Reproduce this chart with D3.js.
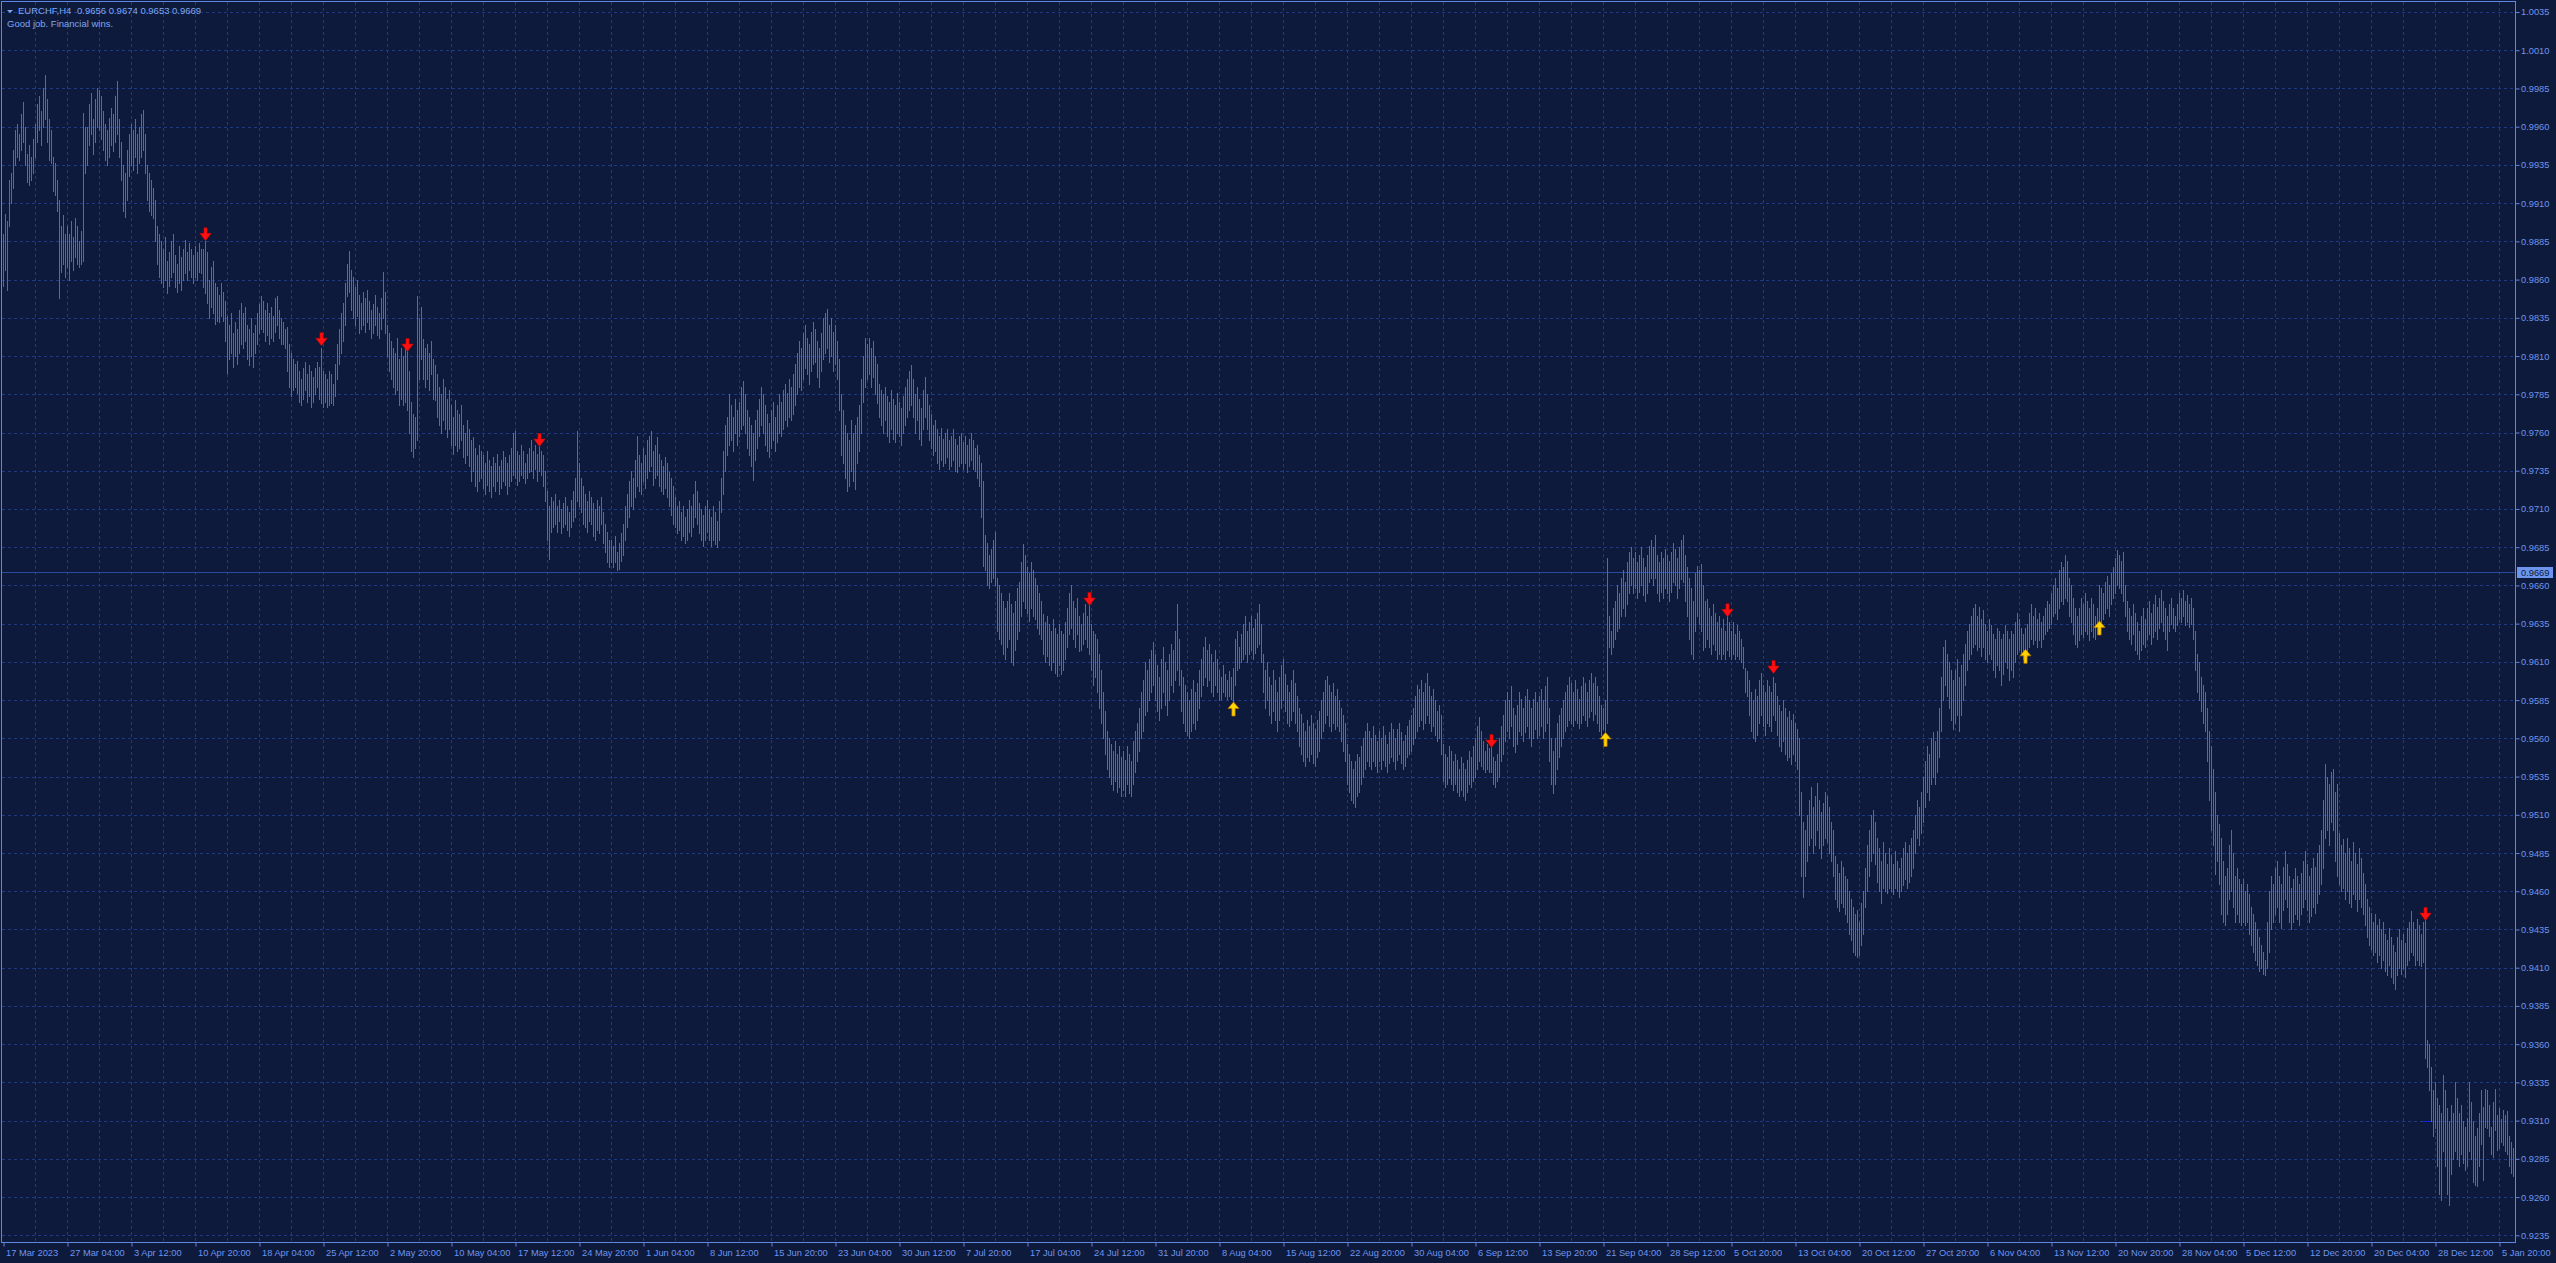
<!DOCTYPE html>
<html><head><meta charset="utf-8">
<script src="https://cdn.jsdelivr.net/npm/d3@7"></script>
<style>html,body{margin:0;padding:0;background:#0e1a3b;overflow:hidden}svg{display:block}</style>
</head><body><svg id="c" width="2556" height="1263"></svg>
<script>
// ---------- data ----------
const symbol = "EURCHF,H4";
const ohlc = ["0.9656", "0.9674", "0.9653", "0.9669"];
const caption = "Good job. Financial wins.";
const currentPrice = 0.9669;
const POINT = 0.0001; // highs / lows below are in points (price × 10000)

const priceTicks = ["1.0035","1.0010","0.9985","0.9960","0.9935","0.9910","0.9885","0.9860","0.9835","0.9810","0.9785","0.9760","0.9735","0.9710","0.9685","0.9660","0.9635","0.9610","0.9585","0.9560","0.9535","0.9510","0.9485","0.9460","0.9435","0.9410","0.9385","0.9360","0.9335","0.9310","0.9285","0.9260","0.9235"];

const dateLabels = ["17 Mar 2023","27 Mar 04:00","3 Apr 12:00","10 Apr 20:00","18 Apr 04:00","25 Apr 12:00","2 May 20:00","10 May 04:00","17 May 12:00","24 May 20:00","1 Jun 04:00","8 Jun 12:00","15 Jun 20:00","23 Jun 04:00","30 Jun 12:00","7 Jul 20:00","17 Jul 04:00","24 Jul 12:00","31 Jul 20:00","8 Aug 04:00","15 Aug 12:00","22 Aug 20:00","30 Aug 04:00","6 Sep 12:00","13 Sep 20:00","21 Sep 04:00","28 Sep 12:00","5 Oct 20:00","13 Oct 04:00","20 Oct 12:00","27 Oct 20:00","6 Nov 04:00","13 Nov 12:00","20 Nov 20:00","28 Nov 04:00","5 Dec 12:00","12 Dec 20:00","20 Dec 04:00","28 Dec 12:00","5 Jan 20:00"];
const barsPerLabel = 32;

const highs = [
9890,9903,9898,9925,9930,9945,9958,9962,9955,9968,9976,9960,9942,9948,9940,9952,
9962,9975,9980,9970,9985,9994,9978,9965,9958,9940,9936,9925,9912,9895,9902,9890,
9895,9890,9898,9888,9900,9895,9885,9892,9969,9960,9960,9975,9982,9965,9978,9985,
9984,9980,9970,9962,9958,9966,9972,9968,9980,9990,9965,9950,9935,9930,9945,9955,
9962,9958,9965,9955,9960,9968,9971,9955,9935,9930,9925,9920,9912,9895,9890,9885,
9880,9888,9872,9878,9885,9890,9876,9870,9882,9875,9880,9886,9878,9884,9880,9876,
9882,9878,9884,9880,9880,9885,9878,9860,9868,9872,9858,9855,9850,9858,9852,9846,
9836,9830,9838,9825,9832,9828,9840,9845,9838,9842,9830,9828,9835,9825,9830,9838,
9844,9849,9846,9840,9845,9838,9842,9836,9848,9849,9840,9835,9832,9828,9829,9818,
9812,9808,9805,9807,9800,9795,9802,9806,9798,9804,9800,9796,9802,9806,9803,9815,
9800,9798,9795,9800,9798,9792,9805,9818,9828,9838,9845,9858,9870,9879,9866,9862,
9855,9860,9850,9845,9852,9848,9853,9846,9840,9844,9850,9842,9838,9848,9865,9852,
9830,9825,9820,9815,9812,9822,9808,9815,9810,9816,9813,9800,9780,9772,9770,9849,
9835,9842,9821,9815,9818,9812,9820,9808,9804,9798,9790,9785,9795,9790,9782,9788,
9778,9770,9781,9775,9772,9778,9765,9760,9768,9762,9755,9757,9750,9745,9752,9748,
9745,9740,9748,9742,9738,9744,9740,9746,9738,9742,9748,9744,9740,9745,9750,9760,
9761,9748,9745,9752,9748,9740,9746,9750,9755,9748,9752,9746,9753,9748,9745,9735,
9722,9712,9718,9715,9720,9712,9716,9710,9714,9718,9712,9708,9716,9722,9730,9761,
9740,9730,9725,9720,9715,9722,9718,9714,9710,9716,9712,9718,9708,9700,9695,9690,
9690,9686,9692,9682,9688,9694,9700,9712,9720,9728,9735,9730,9742,9758,9745,9740,
9750,9745,9755,9758,9761,9748,9752,9757,9746,9742,9738,9744,9740,9734,9730,9725,
9718,9712,9715,9708,9712,9705,9710,9716,9712,9720,9728,9722,9714,9710,9706,9712,
9716,9710,9705,9712,9708,9702,9715,9730,9748,9765,9770,9785,9778,9770,9782,9775,
9780,9790,9794,9785,9775,9770,9765,9760,9768,9775,9782,9790,9785,9778,9772,9766,
9775,9780,9770,9778,9785,9780,9788,9792,9786,9795,9790,9798,9805,9812,9820,9815,
9825,9830,9822,9818,9826,9832,9828,9820,9815,9825,9835,9838,9841,9830,9835,9826,
9830,9820,9808,9785,9775,9765,9760,9755,9768,9760,9765,9770,9778,9795,9810,9822,
9818,9822,9815,9820,9810,9805,9792,9788,9785,9790,9784,9780,9788,9782,9778,9786,
9780,9776,9784,9790,9795,9800,9804,9795,9785,9790,9782,9776,9788,9796,9785,9778,
9772,9765,9768,9762,9758,9763,9756,9760,9762,9755,9758,9762,9756,9752,9758,9760,
9754,9758,9752,9756,9760,9755,9750,9752,9745,9740,9728,9693,9688,9680,9684,9690,
9695,9665,9660,9655,9650,9645,9650,9655,9648,9642,9650,9658,9662,9675,9687,9680,
9672,9668,9675,9670,9665,9660,9655,9650,9641,9636,9640,9635,9630,9638,9632,9628,
9635,9630,9628,9636,9645,9655,9660,9650,9645,9652,9640,9635,9642,9648,9640,9648,
9635,9630,9628,9625,9615,9605,9590,9578,9565,9560,9556,9552,9558,9550,9555,9548,
9552,9546,9555,9550,9545,9558,9565,9570,9580,9590,9598,9610,9605,9612,9618,9623,
9615,9608,9600,9612,9620,9610,9605,9615,9622,9618,9630,9648,9625,9605,9600,9595,
9590,9585,9592,9598,9590,9596,9605,9612,9620,9626,9618,9622,9615,9610,9618,9612,
9605,9600,9608,9602,9598,9604,9600,9606,9625,9630,9620,9628,9635,9640,9630,9636,
9640,9632,9638,9642,9648,9635,9615,9605,9610,9600,9595,9605,9598,9590,9600,9608,
9612,9602,9595,9590,9598,9605,9596,9588,9580,9576,9570,9565,9572,9568,9575,9570,
9566,9572,9578,9585,9590,9598,9601,9595,9590,9596,9588,9592,9585,9580,9575,9570,
9556,9550,9545,9540,9545,9550,9548,9555,9560,9565,9570,9565,9560,9568,9562,9558,
9565,9560,9568,9562,9556,9564,9570,9566,9560,9566,9570,9564,9558,9562,9568,9572,
9575,9580,9588,9595,9592,9598,9590,9596,9603,9594,9588,9592,9585,9578,9582,9575,
9556,9550,9548,9555,9552,9545,9550,9546,9540,9548,9544,9540,9546,9552,9548,9555,
9560,9568,9574,9565,9558,9552,9556,9554,9556,9548,9545,9550,9560,9568,9575,9585,
9590,9585,9594,9580,9575,9582,9590,9586,9580,9588,9592,9585,9580,9586,9590,9584,
9588,9592,9585,9594,9600,9580,9560,9552,9560,9570,9575,9580,9585,9590,9595,9600,
9596,9590,9598,9592,9586,9594,9600,9596,9590,9598,9603,9596,9600,9594,9588,9582,
9580,9585,9678,9640,9630,9645,9650,9660,9655,9665,9670,9662,9675,9682,9685,9678,
9682,9675,9680,9685,9678,9672,9680,9686,9690,9685,9693,9680,9675,9682,9678,9684,
9680,9676,9682,9688,9684,9678,9685,9690,9693,9680,9672,9665,9658,9650,9668,9673,
9670,9674,9660,9650,9651,9645,9640,9648,9642,9636,9640,9632,9638,9630,9641,9636,
9630,9636,9628,9634,9630,9625,9620,9606,9604,9598,9590,9585,9592,9588,9598,9603,
9595,9590,9598,9594,9590,9600,9596,9588,9582,9578,9585,9580,9574,9578,9572,9576,
9570,9566,9560,9525,9505,9500,9510,9520,9528,9515,9522,9531,9520,9512,9518,9525,
9522,9515,9505,9500,9483,9478,9472,9480,9476,9470,9468,9460,9455,9450,9445,9448,
9440,9452,9460,9475,9490,9500,9510,9513,9505,9495,9488,9480,9492,9485,9478,9488,
9484,9478,9486,9480,9475,9482,9488,9492,9485,9490,9495,9500,9510,9520,9515,9525,
9535,9545,9555,9550,9560,9564,9558,9565,9580,9600,9620,9624,9615,9610,9605,9598,
9605,9612,9600,9608,9615,9622,9630,9635,9640,9645,9648,9640,9646,9638,9644,9635,
9630,9638,9634,9628,9625,9632,9630,9625,9628,9634,9630,9625,9630,9628,9636,9642,
9638,9632,9628,9632,9635,9642,9648,9640,9645,9638,9642,9636,9640,9645,9650,9648,
9655,9660,9665,9658,9670,9675,9672,9680,9676,9665,9660,9652,9645,9640,9645,9652,
9648,9655,9650,9645,9652,9648,9640,9645,9660,9658,9655,9662,9666,9660,9668,9672,
9678,9683,9680,9676,9682,9660,9650,9645,9640,9648,9642,9636,9630,9640,9645,9638,
9645,9650,9642,9648,9654,9646,9652,9657,9650,9645,9640,9648,9652,9645,9640,9648,
9655,9652,9657,9650,9654,9648,9652,9645,9630,9615,9610,9600,9595,9590,9580,9565,
9555,9540,9525,9510,9504,9495,9480,9470,9475,9490,9500,9485,9470,9475,9468,9465,
9468,9460,9465,9458,9450,9445,9440,9435,9430,9425,9420,9415,9440,9460,9470,9465,
9475,9480,9470,9465,9476,9486,9478,9470,9462,9468,9475,9470,9465,9472,9480,9486,
9478,9470,9475,9482,9476,9485,9490,9500,9520,9543,9535,9530,9538,9540,9525,9530,
9498,9490,9494,9485,9495,9488,9480,9492,9485,9478,9488,9482,9472,9465,9455,9450,
9446,9440,9445,9438,9442,9435,9440,9432,9428,9436,9430,9425,9420,9430,9435,9428,
9432,9426,9436,9440,9447,9440,9435,9442,9438,9432,9440,9445,9363,9360,9345,9330,
9335,9325,9320,9315,9340,9330,9318,9310,9320,9315,9335,9325,9315,9320,9310,9306,
9312,9335,9322,9310,9300,9305,9315,9330,9319,9331,9330,9320,9306,9322,9331,9314,
9318,9311,9317,9314,9316,9300,9296,9292
];

const lows = [
9856,9866,9853,9895,9910,9920,9935,9940,9938,9945,9950,9935,9924,9922,9925,9930,
9940,9950,9958,9948,9960,9965,9950,9938,9936,9918,9915,9905,9848,9865,9870,9862,
9868,9860,9872,9866,9875,9870,9868,9870,9872,9930,9935,9948,9955,9942,9950,9960,
9958,9952,9945,9938,9935,9940,9948,9944,9950,9955,9940,9925,9905,9901,9912,9928,
9935,9932,9940,9930,9936,9940,9945,9930,9912,9905,9902,9900,9885,9870,9862,9858,
9855,9860,9851,9856,9862,9865,9855,9852,9858,9853,9860,9864,9860,9866,9862,9858,
9862,9860,9865,9864,9855,9851,9845,9835,9842,9838,9831,9833,9832,9836,9833,9820,
9799,9808,9812,9803,9810,9805,9812,9818,9815,9820,9808,9804,9810,9803,9812,9818,
9825,9828,9826,9820,9824,9818,9822,9820,9826,9830,9822,9818,9818,9815,9800,9790,
9784,9788,9790,9786,9780,9778,9782,9788,9780,9784,9777,9780,9785,9790,9782,9779,
9777,9780,9777,9778,9779,9778,9784,9795,9805,9812,9820,9830,9849,9852,9840,9835,
9830,9836,9825,9828,9830,9826,9832,9828,9822,9825,9830,9824,9822,9828,9835,9825,
9810,9800,9795,9790,9785,9788,9778,9782,9778,9780,9775,9760,9748,9744,9750,9755,
9795,9808,9795,9790,9795,9788,9798,9782,9781,9770,9765,9760,9768,9762,9757,9762,
9752,9746,9752,9748,9750,9755,9744,9740,9745,9738,9728,9735,9725,9722,9728,9730,
9724,9720,9726,9722,9718,9725,9722,9728,9720,9724,9728,9726,9720,9725,9728,9732,
9730,9726,9728,9732,9730,9727,9730,9734,9735,9730,9736,9728,9735,9732,9725,9715,
9690,9677,9695,9698,9700,9695,9702,9694,9698,9700,9696,9692,9698,9702,9705,9715,
9712,9708,9700,9698,9695,9702,9700,9692,9690,9696,9694,9700,9688,9682,9675,9672,
9675,9672,9675,9670,9671,9676,9680,9690,9698,9705,9712,9710,9718,9725,9722,9720,
9728,9724,9730,9735,9738,9726,9730,9732,9725,9722,9720,9724,9718,9712,9706,9700,
9698,9694,9696,9690,9692,9688,9690,9695,9692,9698,9705,9700,9694,9690,9686,9690,
9695,9690,9686,9690,9687,9685,9690,9708,9720,9735,9745,9752,9755,9748,9760,9752,
9758,9762,9765,9760,9750,9745,9738,9729,9742,9750,9758,9765,9760,9752,9748,9744,
9750,9755,9748,9754,9760,9758,9762,9768,9764,9770,9768,9772,9778,9785,9790,9788,
9795,9802,9798,9792,9800,9805,9806,9796,9790,9800,9808,9812,9815,9806,9810,9800,
9805,9795,9775,9745,9740,9730,9722,9725,9735,9728,9723,9740,9748,9760,9780,9790,
9795,9798,9790,9796,9785,9779,9770,9765,9760,9768,9758,9754,9762,9756,9754,9760,
9758,9752,9760,9765,9770,9775,9778,9770,9760,9768,9756,9752,9762,9770,9762,9755,
9750,9745,9748,9740,9736,9742,9738,9740,9744,9736,9738,9742,9735,9734,9738,9740,
9736,9740,9734,9738,9742,9736,9735,9730,9725,9705,9673,9670,9660,9658,9662,9665,
9660,9630,9625,9622,9615,9612,9620,9625,9610,9608,9618,9625,9630,9640,9650,9645,
9642,9637,9645,9640,9638,9632,9628,9625,9615,9610,9614,9608,9605,9610,9603,9601,
9608,9602,9605,9612,9620,9628,9632,9625,9620,9628,9617,9618,9622,9625,9620,9615,
9605,9595,9600,9590,9580,9570,9560,9550,9540,9535,9530,9526,9532,9525,9528,9522,
9526,9522,9530,9524,9522,9530,9538,9545,9552,9560,9565,9575,9578,9585,9590,9595,
9585,9578,9572,9580,9590,9582,9575,9585,9595,9590,9598,9605,9595,9578,9570,9565,
9562,9560,9565,9570,9566,9572,9580,9588,9595,9600,9594,9598,9590,9588,9595,9590,
9585,9586,9590,9588,9586,9588,9586,9584,9595,9605,9606,9610,9612,9615,9610,9615,
9618,9612,9616,9620,9622,9610,9590,9580,9585,9575,9570,9578,9572,9565,9572,9580,
9585,9578,9570,9568,9572,9578,9570,9565,9555,9550,9545,9542,9548,9545,9550,9544,
9542,9548,9552,9560,9565,9570,9575,9568,9565,9570,9566,9568,9565,9558,9552,9545,
9530,9525,9520,9518,9515,9522,9525,9530,9535,9540,9545,9542,9540,9545,9542,9538,
9545,9540,9546,9542,9538,9544,9548,9545,9540,9546,9550,9544,9540,9542,9548,9550,
9552,9556,9560,9565,9568,9572,9566,9570,9575,9570,9565,9568,9562,9558,9560,9550,
9532,9528,9530,9534,9530,9526,9530,9525,9522,9526,9522,9520,9525,9530,9528,9532,
9535,9540,9545,9542,9540,9538,9540,9538,9538,9530,9528,9532,9535,9545,9550,9558,
9565,9560,9568,9555,9551,9556,9565,9562,9558,9564,9568,9560,9555,9560,9566,9560,
9562,9568,9560,9565,9570,9545,9530,9524,9530,9540,9548,9555,9560,9565,9568,9572,
9570,9568,9572,9570,9567,9570,9575,9572,9568,9574,9578,9572,9576,9570,9565,9562,
9566,9565,9570,9620,9615,9620,9625,9630,9632,9640,9645,9640,9648,9655,9660,9655,
9658,9652,9656,9660,9654,9650,9655,9662,9665,9660,9665,9655,9650,9656,9652,9658,
9655,9650,9656,9662,9660,9652,9658,9664,9662,9650,9640,9625,9615,9612,9630,9640,
9635,9630,9618,9620,9625,9620,9615,9622,9618,9612,9615,9612,9615,9612,9618,9614,
9612,9615,9612,9614,9612,9610,9606,9590,9588,9575,9565,9560,9558,9562,9570,9575,
9568,9562,9570,9568,9565,9575,9572,9562,9555,9552,9558,9550,9546,9548,9543,9550,
9545,9540,9510,9470,9456,9470,9480,9490,9495,9485,9490,9500,9488,9482,9490,9495,
9492,9485,9480,9470,9455,9450,9447,9452,9450,9445,9440,9432,9428,9420,9418,9417,
9418,9425,9432,9450,9460,9470,9480,9485,9478,9466,9460,9452,9462,9460,9459,9462,
9460,9458,9462,9460,9456,9460,9464,9468,9462,9466,9470,9475,9485,9495,9490,9498,
9505,9515,9525,9520,9530,9535,9530,9538,9548,9565,9585,9595,9588,9580,9572,9566,
9570,9575,9565,9575,9585,9595,9605,9612,9615,9620,9622,9618,9620,9614,9620,9612,
9610,9615,9612,9605,9600,9608,9605,9595,9602,9610,9606,9598,9605,9600,9610,9615,
9618,9615,9612,9618,9614,9620,9625,9622,9624,9620,9624,9620,9625,9628,9630,9632,
9635,9640,9642,9638,9645,9650,9648,9652,9650,9640,9636,9628,9622,9620,9624,9628,
9626,9630,9628,9624,9630,9626,9625,9628,9637,9635,9638,9642,9645,9640,9648,9652,
9655,9660,9658,9655,9650,9640,9630,9625,9622,9628,9618,9615,9612,9618,9622,9620,
9625,9628,9622,9626,9630,9625,9632,9636,9630,9625,9618,9630,9635,9632,9630,9634,
9638,9636,9640,9634,9636,9633,9635,9625,9605,9590,9585,9578,9570,9565,9545,9520,
9500,9490,9471,9480,9465,9445,9440,9438,9445,9455,9460,9450,9440,9445,9440,9438,
9440,9438,9440,9432,9425,9420,9415,9412,9408,9410,9406,9405,9410,9420,9435,9440,
9445,9450,9440,9436,9448,9455,9450,9440,9435,9440,9445,9442,9438,9445,9450,9455,
9448,9440,9444,9450,9446,9452,9458,9465,9475,9495,9500,9490,9505,9500,9480,9470,
9465,9460,9462,9455,9460,9452,9450,9458,9455,9447,9455,9450,9445,9438,9430,9425,
9422,9418,9420,9414,9418,9410,9415,9408,9405,9412,9404,9400,9396,9405,9410,9406,
9410,9404,9412,9415,9420,9418,9412,9415,9412,9411,9414,9351,9345,9330,9310,9300,
9305,9280,9262,9258,9290,9280,9262,9255,9275,9285,9290,9285,9280,9288,9282,9278,
9280,9290,9285,9270,9268,9267,9280,9295,9271,9306,9305,9300,9288,9286,9304,9291,
9292,9296,9294,9290,9288,9280,9276,9274
];

// signal arrows: bar index and price of the arrow centre
const sellBars   = [101, 159, 202, 268, 543, 744, 862, 885, 1211];
const sellPrices = [0.98896, 0.98210, 0.98172, 0.97551, 0.96512, 0.95582, 0.96437, 0.96067, 0.94451];
const buyBars    = [615, 801, 1011, 1048];
const buyPrices  = [0.95792, 0.95593, 0.96136, 0.96322];
const markBars = [1210, 1214], markPrice = 0.9310;

// ---------- drawing ----------
const COL = {bg:"#0e1a3b", grid:"#1e3b80", bar:"#4169e1", text:"#6d95ee", frame:"#5f86e0",
             priceLine:"#2a4a9c", header:"#7ea6f4", sell:"#ff1010", buy:"#ffd400", buyEdge:"#c07a00"};
const FONT = "'Liberation Sans', Arial, sans-serif";
const svg = d3.select("#c");
svg.append("rect").attr("width", 2556).attr("height", 1263).attr("fill", COL.bg);

const PL = 2, PR = 2515, PT = 2, PB = 1242;
const x = d3.scaleLinear().domain([0, 1256]).range([3, 2515]);
const y = d3.scaleLinear().domain([0.923062, 1.004154]).range([PB, PT]);
const n = Math.min(highs.length, lows.length);
const bars = d3.range(n).map(i => ({i, h: highs[i] * POINT, l: lows[i] * POINT}));

svg.append("clipPath").attr("id", "plotclip").append("rect")
  .attr("x", PL).attr("y", PT).attr("width", PR - PL).attr("height", PB - PT);

// grid
const grid = svg.append("g").attr("stroke", COL.grid).attr("stroke-dasharray", "3,3")
  .attr("shape-rendering", "crispEdges").attr("clip-path", "url(#plotclip)");
grid.selectAll("line.h").data(priceTicks).join("line").attr("class", "h")
  .attr("x1", PL).attr("x2", PR)
  .attr("y1", d => Math.round(y(+d)) + 0.5).attr("y2", d => Math.round(y(+d)) + 0.5);
grid.selectAll("line.v").data(d3.range(16, 1257, 16)).join("line").attr("class", "v")
  .attr("y1", PT).attr("y2", PB)
  .attr("x1", d => Math.round(x(d)) + 0.5).attr("x2", d => Math.round(x(d)) + 0.5);

// current price line
const yCur = Math.round(y(currentPrice)) + 0.5;
svg.append("line").attr("x1", PL).attr("x2", PR).attr("y1", yCur).attr("y2", yCur)
  .attr("stroke", COL.priceLine).attr("shape-rendering", "crispEdges");

// bars (high-low)
svg.append("g").attr("fill", COL.bar).attr("shape-rendering", "crispEdges").attr("clip-path", "url(#plotclip)")
  .selectAll("rect").data(bars).join("rect")
  .attr("x", d => Math.round(x(d.i))).attr("width", 1)
  .attr("y", d => Math.round(y(d.h)))
  .attr("height", d => Math.max(1, Math.round(y(d.l)) - Math.round(y(d.h)) + 1));

// small level mark
svg.append("line").attr("x1", Math.round(x(markBars[0]))).attr("x2", Math.round(x(markBars[1])))
  .attr("y1", Math.round(y(markPrice)) + 0.5).attr("y2", Math.round(y(markPrice)) + 0.5)
  .attr("stroke", "#1020e8").attr("stroke-width", 1);

// arrows
const downArrow = (cx, cy) => `M${cx-1.6},${cy-6.5}L${cx+1.6},${cy-6.5}L${cx+1.6},${cy-1}L${cx+5.8},${cy-1}L${cx},${cy+6.5}L${cx-5.8},${cy-1}L${cx-1.6},${cy-1}Z`;
const upArrow = (cx, cy) => `M${cx-1.6},${cy+7}L${cx+1.6},${cy+7}L${cx+1.6},${cy-0.5}L${cx+5.5},${cy-0.5}L${cx},${cy-7}L${cx-5.5},${cy-0.5}L${cx-1.6},${cy-0.5}Z`;
svg.append("g").selectAll("path").data(sellBars).join("path")
  .attr("d", (b, k) => downArrow(Math.round(x(b)) + 0.5, y(sellPrices[k])))
  .attr("fill", COL.sell).attr("stroke", "#c00000").attr("stroke-width", 0.5);
svg.append("g").selectAll("path").data(buyBars).join("path")
  .attr("d", (b, k) => upArrow(Math.round(x(b)) + 0.5, y(buyPrices[k])))
  .attr("fill", COL.buy).attr("stroke", COL.buyEdge).attr("stroke-width", 0.7);

// frame
svg.append("rect").attr("x", 1.5).attr("y", 1.5).attr("width", PR - 1).attr("height", PB - 1)
  .attr("fill", "none").attr("stroke", COL.frame).attr("shape-rendering", "crispEdges");

// price axis
const yAxis = d3.axisRight(y).tickValues(priceTicks.map(Number))
  .tickFormat((d, k) => priceTicks[k]).tickSize(4).tickPadding(1.5);
const gy = svg.append("g").attr("transform", `translate(${PR + 0.5},0)`).call(yAxis);
gy.select(".domain").remove();
gy.selectAll(".tick line").attr("stroke", COL.frame);
gy.selectAll(".tick text").attr("fill", COL.text).attr("font-family", FONT).attr("font-size", "9.3px");

// current price label
const curG = svg.append("g");
curG.append("rect").attr("x", 2517).attr("y", Math.round(y(currentPrice)) - 5).attr("width", 36).attr("height", 11)
  .attr("fill", COL.text);
curG.append("text").attr("x", 2521).attr("y", Math.round(y(currentPrice)) + 3.5)
  .attr("fill", COL.bg).attr("font-family", FONT).attr("font-size", "9.3px").text(currentPrice.toFixed(4));

// time axis
const xAxis = d3.axisBottom(x).tickValues(dateLabels.map((_, k) => k * barsPerLabel))
  .tickFormat((d, k) => dateLabels[k]).tickSize(4).tickPadding(2);
const gx = svg.append("g").attr("transform", `translate(0.5,${PB + 0.5})`).call(xAxis);
gx.select(".domain").remove();
gx.selectAll(".tick line").attr("stroke", COL.frame);
gx.selectAll(".tick text").attr("fill", COL.text).attr("font-family", FONT).attr("font-size", "9.3px")
  .attr("text-anchor", "start").attr("x", 2).attr("y", 7).attr("dy", "0.71em");

// header
svg.append("path").attr("d", "M7,10L13,10L10,13Z").attr("fill", COL.header);
svg.append("text").attr("x", 18).attr("y", 13.5).attr("fill", COL.header).attr("font-family", FONT)
  .attr("font-size", "9.5px").text(symbol);
svg.append("text").attr("x", 77).attr("y", 13.5).attr("fill", COL.header).attr("font-family", FONT)
  .attr("font-size", "9.5px").text(ohlc.join(" "));
svg.append("text").attr("x", 7).attr("y", 27).attr("fill", COL.header).attr("font-family", FONT)
  .attr("font-size", "9.5px").text(caption);

if (highs.length !== lows.length || highs.length !== 1256) {
  throw new Error("length mismatch highs=" + highs.length + " lows=" + lows.length);
}
</script>
</body></html>
